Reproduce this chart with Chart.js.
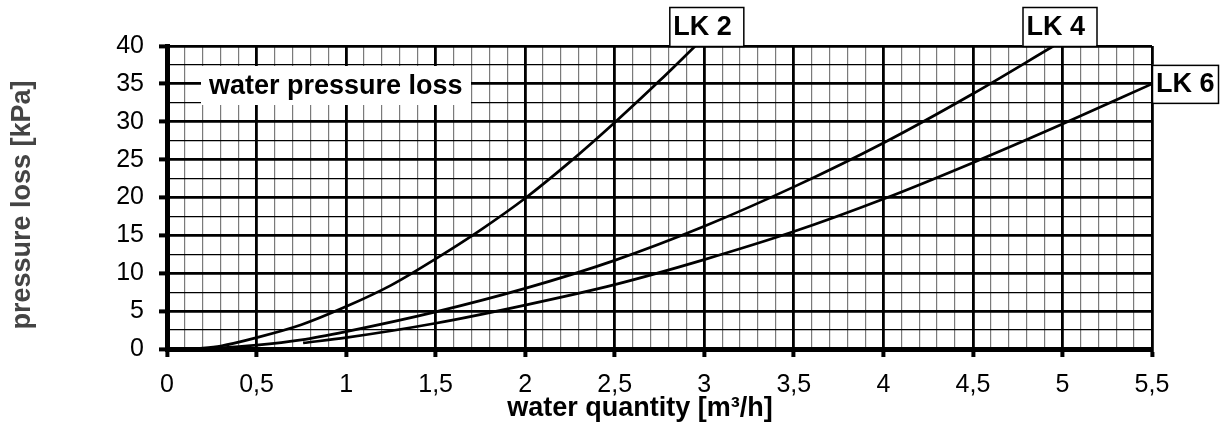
<!DOCTYPE html>
<html>
<head>
<meta charset="utf-8">
<title>water pressure loss</title>
<script src="https://cdn.jsdelivr.net/npm/chart.js@4"></script>
<style>
  html, body { margin: 0; padding: 0; background: #fff; }
  #wrap { position: relative; width: 1220px; height: 430px; }
</style>
</head>
<body>
<div id="wrap"><canvas id="grafico-perdas"></canvas></div>
<script>
// Perda de pressão da água [kPa] x vazão [m³/h] para cada modelo
const lk2Vazao = [0.15, 0.3, 0.5, 0.75, 1, 1.25, 1.5, 1.75, 2, 2.25, 2.5, 2.75, 2.95];
const lk2Perda = [0, 0.4, 1.5, 3.2, 5.6, 8.4, 11.9, 15.7, 19.9, 24.7, 29.9, 35.4, 40];

const lk4Vazao = [0.1, 0.3, 0.5, 0.75, 1, 1.5, 2, 2.5, 3, 3.5, 4, 4.5, 4.95];
const lk4Perda = [0, 0.15, 0.5, 1.2, 2.3, 4.9, 8.0, 11.7, 16.2, 21.4, 27.2, 33.7, 40];

const lk6Vazao = [0.76, 1, 1.5, 2, 2.5, 3, 3.5, 4, 4.5, 5, 5.5];
const lk6Perda = [0.8, 1.5, 3.4, 5.8, 8.5, 11.8, 15.5, 19.8, 24.6, 29.7, 35];

const nomesModelos = ['LK 2', 'LK 4', 'LK 6'];
const tituloX = 'water quantity [m³/h]';
const tituloY = 'pressure loss [kPa]';
const rotuloGrafico = 'water pressure loss';

const FONTE = "'Liberation Sans', Arial, sans-serif";

function pontos(xs, ys) {
    return xs.map((x, i) => ({ x: x, y: ys[i] }));
}

// linha principal a cada 0,5 m³/h e a cada 5 kPa
function ehPrincipal(v, passo) {
    const r = v / passo;
    return Math.abs(r - Math.round(r)) < 1e-6;
}

function formatar(v) {
    return String(Math.round(v * 10) / 10).replace('.', ',');
}

function estiloLinha(cor) {
    return {
        borderColor: cor,
        borderWidth: 2.7,
        pointRadius: 0,
        fill: false,
        cubicInterpolationMode: 'monotone'
    };
}

// Rótulos em caixa branca e títulos dos eixos
const rotulos = {
    id: 'rotulos',
    beforeDatasetsDraw(chart) {
        const c = chart.ctx;
        c.save();
        // caixa "water pressure loss" por cima da grade
        c.fillStyle = '#fff';
        c.fillRect(201, 66, 270, 39);
        c.fillStyle = '#000';
        c.font = 'bold 27px ' + FONTE;
        c.textBaseline = 'middle';
        c.textAlign = 'left';
        c.fillText(rotuloGrafico, 209, 87);
        c.restore();
    },
    afterDraw(chart) {
        const c = chart.ctx;
        const xs = chart.scales.x;
        const ys = chart.scales.y;
        c.save();
        c.font = 'bold 27px ' + FONTE;
        c.textBaseline = 'middle';
        c.textAlign = 'left';
        c.lineWidth = 1.5;
        c.strokeStyle = '#000';

        function caixa(texto, x, y, w, h) {
            c.fillStyle = '#fff';
            c.fillRect(x, y, w, h);
            c.strokeRect(x + 0.5, y + 0.5, w, h);
            c.fillStyle = '#000';
            c.fillText(texto, x + 4, y + h / 2 + 1);
        }

        // LK 2 e LK 4 acima do ponto onde a curva sai pelo topo
        const topo = chart.chartArea.top;
        const x2 = xs.getPixelForValue(lk2Vazao[lk2Vazao.length - 1]);
        const x4 = xs.getPixelForValue(lk4Vazao[lk4Vazao.length - 1]);
        caixa(nomesModelos[0], x2 - 26, topo - 39, 74, 39);
        caixa(nomesModelos[1], x4 - 31, topo - 39, 74, 39);
        // LK 6 ao lado do fim da curva
        const y6 = ys.getPixelForValue(lk6Perda[lk6Perda.length - 1]);
        caixa(nomesModelos[2], chart.chartArea.right, y6 - 19, 66, 38);

        // título do eixo X
        c.textAlign = 'center';
        c.fillText(tituloX, 640, 409);

        // título do eixo Y, em cinza escuro
        c.translate(23, 205);
        c.rotate(-Math.PI / 2);
        c.fillStyle = '#444';
        c.fillText(tituloY, 0, 0);
        c.restore();
    }
};

const ctx = document.getElementById('grafico-perdas').getContext('2d');
const graficoPerdas = new Chart(ctx, {
    type: 'line',
    data: {
        datasets: [
            Object.assign({ label: nomesModelos[0], data: pontos(lk2Vazao, lk2Perda) }, estiloLinha('#000')),
            Object.assign({ label: nomesModelos[1], data: pontos(lk4Vazao, lk4Perda) }, estiloLinha('#000')),
            Object.assign({ label: nomesModelos[2], data: pontos(lk6Vazao, lk6Perda) }, estiloLinha('#000'))
        ]
    },
    options: {
        responsive: true,
        maintainAspectRatio: false,
        animation: false,
        events: [],
        layout: { padding: { top: 46, right: 68, left: 0, bottom: 0 } },
        plugins: {
            legend: { display: false },
            tooltip: { enabled: false }
        },
        scales: {
            x: {
                type: 'linear',
                min: 0,
                max: 5.5,
                afterFit: (s) => { s.height = 81; },
                border: { display: true, color: '#000', width: 5 },
                grid: {
                    color: (c) => ehPrincipal(c.tick.value, 0.5) ? '#000' : '#7a7a7a',
                    lineWidth: (c) => ehPrincipal(c.tick.value, 0.5) ? 2.8 : 1.2,
                    drawTicks: true,
                    tickLength: 8,
                    tickColor: (c) => ehPrincipal(c.tick.value, 0.5) ? '#000' : 'rgba(0,0,0,0)',
                    tickWidth: 4
                },
                ticks: {
                    stepSize: 0.1,
                    autoSkip: false,
                    maxRotation: 0,
                    padding: 13,
                    color: '#000',
                    font: { family: FONTE, size: 25 },
                    callback: (v) => ehPrincipal(v, 0.5) ? formatar(v) : ''
                }
            },
            y: {
                type: 'linear',
                min: 0,
                max: 40,
                afterFit: (s) => { s.width = 167; },
                border: { display: true, color: '#000', width: 5 },
                grid: {
                    color: '#000',
                    lineWidth: (c) => ehPrincipal(c.tick.value, 5) ? 2.8 : 1.2,
                    drawTicks: true,
                    tickLength: 8,
                    tickColor: (c) => ehPrincipal(c.tick.value, 5) ? '#000' : 'rgba(0,0,0,0)',
                    tickWidth: 4
                },
                ticks: {
                    stepSize: 2.5,
                    autoSkip: false,
                    padding: 15,
                    color: '#000',
                    font: { family: FONTE, size: 25 },
                    callback: (v) => ehPrincipal(v, 5) ? formatar(v) : ''
                }
            }
        }
    },
    plugins: [rotulos]
});
</script>
</body>
</html>
